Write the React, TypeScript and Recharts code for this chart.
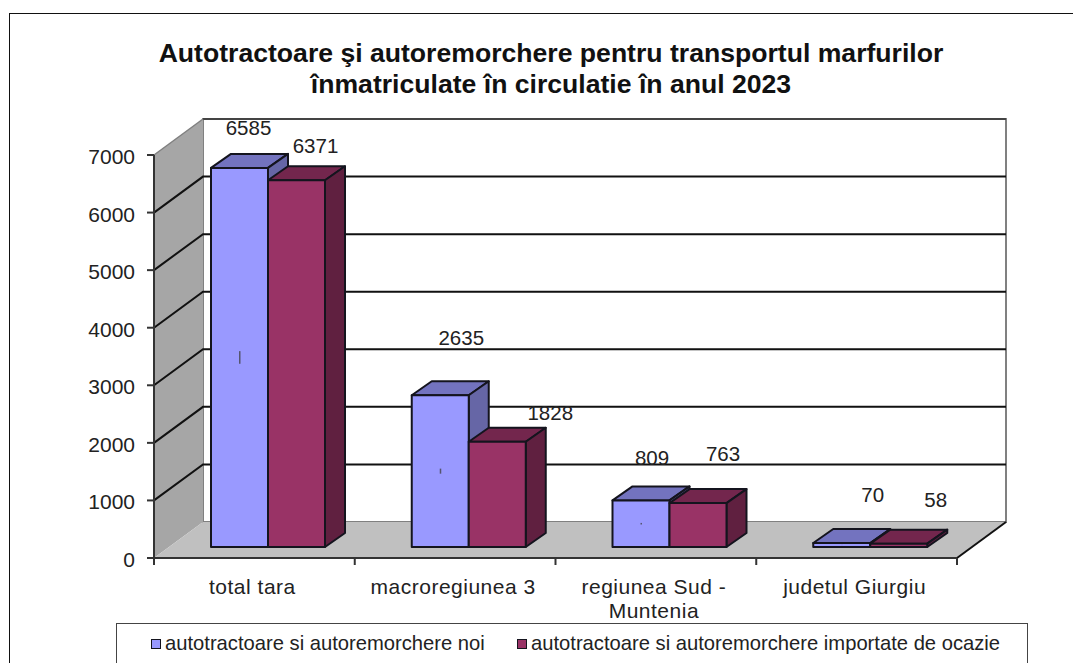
import { BarChart, Bar, XAxis, YAxis, CartesianGrid, ReferenceArea, LabelList, Text } from 'recharts';

const CATEGORIES = ['total tara', 'macroregiunea 3', 'regiunea Sud - Muntenia', 'judetul Giurgiu'];
const NOI = [6585, 2635, 809, 70];
const OCAZIE = [6371, 1828, 763, 58];
const Y_TICKS = [0, 1000, 2000, 3000, 4000, 5000, 6000, 7000];
const SERIES_NOI = 'autotractoare si autoremorchere noi';
const SERIES_OCAZIE = 'autotractoare si autoremorchere importate de ocazie';
const TITLE = ['Autotractoare şi autoremorchere pentru transportul marfurilor', 'înmatriculate în circulatie în anul 2023'];

const data = CATEGORIES.map((name, i) => ({ name, noi: NOI[i], ocazie: OCAZIE[i] }));

// label positions in the original are hand placed, so nudge them per bar
const NUDGE_NOI = [[23, -49], [35, -67], [25, -52], [45, -57]];
const NUDGE_OCAZIE = [[33, -44], [67, -38], [39, -58], [51, -53]];

const FONT = '"Liberation Sans", Arial, sans-serif';
const TEXT = '#222';
const WALL_DX = 49;
const WALL_DY = 36;
const BAR_DX = 14;
const BAR_DY = 11;
const DEPTH_DX = 20;
const DEPTH_DY = 14;
const BAND = 200.75;

function Prism({ x, y, width, height, front, top, side, mark }: any) {
  const l = x + BAR_DX;
  const r = l + width;
  const t = y - BAR_DY;
  const b = t + height;
  const mh = height / 30;
  return (
    <g stroke="#14141e" strokeWidth={2} strokeLinejoin="round">
      <polygon points={`${l},${t} ${l + DEPTH_DX},${t - DEPTH_DY} ${r + DEPTH_DX},${t - DEPTH_DY} ${r},${t}`} fill={top} />
      <polygon points={`${r},${t} ${r + DEPTH_DX},${t - DEPTH_DY} ${r + DEPTH_DX},${b - DEPTH_DY} ${r},${b}`} fill={side} />
      <rect x={l} y={t} width={width} height={height} fill={front} />
      {mark && <rect x={l + width / 2 - 0.5} y={t + height / 2 - mh / 2} width={1.5} height={mh} fill="#55556e" stroke="none" />}
    </g>
  );
}

function Walls({ x, y, width, height }: any) {
  const b = y + height;
  return (
    <g>
      <polygon points={`${x + WALL_DX},${y - WALL_DY} ${x + width + WALL_DX},${y - WALL_DY} ${x + width + WALL_DX},${b - WALL_DY} ${x + WALL_DX},${b - WALL_DY}`} fill="#fff" stroke="#808080" strokeWidth={2} />
      <line x1={x + WALL_DX} y1={y - WALL_DY} x2={x + width + WALL_DX} y2={y - WALL_DY} stroke="#444" strokeWidth={2} />
      <polygon points={`${x},${y} ${x + WALL_DX},${y - WALL_DY} ${x + WALL_DX},${b - WALL_DY} ${x},${b}`} fill="#a6a6a6" />
      <polygon points={`${x},${b} ${x + WALL_DX},${b - WALL_DY} ${x + width + WALL_DX},${b - WALL_DY} ${x + width},${b}`} fill="#c0c0c0" />
      <line x1={x + width} y1={b} x2={x + width + WALL_DX} y2={b - WALL_DY} stroke="#111" strokeWidth={2} />
      <line x1={x} y1={y} x2={x + WALL_DX} y2={y - WALL_DY} stroke="#808080" strokeWidth={1.5} />
    </g>
  );
}

function GridLine({ x1, x2, y1, index }: any) {
  if (y1 < 156 || y1 > 557) return <g key={index} />;
  return (
    <polyline
      key={index}
      points={`${x1},${y1} ${x1 + WALL_DX},${y1 - WALL_DY} ${x2 + WALL_DX},${y1 - WALL_DY}`}
      fill="none"
      stroke="#111"
      strokeWidth={2}
    />
  );
}

function CategoryTick({ x, y, payload, index }: any) {
  return (
    <g>
      <line x1={x - BAND / 2} y1={y - 8} x2={x - BAND / 2} y2={y - 1} stroke="#333" strokeWidth={2} />
      {index === CATEGORIES.length - 1 && <line x1={x + BAND / 2} y1={y - 8} x2={x + BAND / 2} y2={y - 1} stroke="#333" strokeWidth={2} />}
      <Text
        x={x - 2}
        y={y + 13}
        width={175}
        textAnchor="middle"
        verticalAnchor="start"
        lineHeight={24}
        style={{ fontFamily: FONT, fontSize: 21, letterSpacing: 0.5 }}
        fill={TEXT}
      >
        {payload.value}
      </Text>
    </g>
  );
}

function barLabel(nudge: number[][]) {
  return ({ x, y, width, value, index }: any) => (
    <text x={x + width / 2 + nudge[index][0]} y={y + nudge[index][1]} textAnchor="middle" dominantBaseline="middle" fontFamily={FONT} fontSize={20.5} fill={TEXT}>
      {value}
    </text>
  );
}

function LegendBox() {
  const swatch = (fill: string) => (
    <span style={{ display: 'inline-block', width: 8, height: 8, background: fill, border: '1.5px solid #14141e', marginRight: 4, verticalAlign: 1 }} />
  );
  return (
    <div style={{ position: 'absolute', left: 116, top: 623, width: 910, height: 60, border: '1.5px solid #444', fontFamily: FONT, fontSize: 20.2, color: TEXT, whiteSpace: 'nowrap' }}>
      <span style={{ position: 'absolute', left: 34, top: 8 }}>{swatch('#9999ff')}{SERIES_NOI}</span>
      <span style={{ position: 'absolute', left: 400, top: 8 }}>{swatch('#993366')}{SERIES_OCAZIE}</span>
    </div>
  );
}

export default function App() {
  return (
    <div style={{ position: 'absolute', left: 0, top: 0, width: 1073, height: 663, overflow: 'hidden', background: '#fff' }}>
      <div style={{ position: 'absolute', left: 8.5, top: 12.5, width: 1100, height: 700, border: '1.5px solid #111' }} />
      <div style={{ position: 'absolute', left: 0, top: 38, width: 1102, textAlign: 'center', fontFamily: FONT, fontWeight: 700, fontSize: 26.6, lineHeight: '31px', color: '#111', whiteSpace: 'nowrap' }}>
        {TITLE.map((t) => <div key={t}>{t}</div>)}
      </div>
      <BarChart
        width={1073}
        height={663}
        data={data}
        barGap={0}
        barCategoryGap={43}
        margin={{ top: 155, right: 116, bottom: 60, left: 94 }}
        style={{ position: 'absolute', left: 0, top: 0 }}
      >
        <ReferenceArea y1={0} y2={7000} shape={Walls} ifOverflow="visible" zIndex={-200} />
        <CartesianGrid vertical={false} horizontal={GridLine as any} />
        <XAxis dataKey="name" interval={0} height={45} tickLine={false} axisLine={{ stroke: '#333', strokeWidth: 2 }} tick={CategoryTick} />
        <YAxis
          width={60}
          domain={[0, 7000]}
          ticks={Y_TICKS}
          tickSize={7}
          tickMargin={12}
          interval={0}
          axisLine={{ stroke: '#333', strokeWidth: 2 }}
          tickLine={{ stroke: '#333', strokeWidth: 2 }}
          tick={{ fontFamily: FONT, fontSize: 21, fill: TEXT, dy: 1.5 }}
        />
        <Bar dataKey="noi" name={SERIES_NOI} isAnimationActive={false} shape={(p: any) => <Prism {...p} front="#9999ff" top="#7373bf" side="#6666a6" mark />}>
          <LabelList dataKey="noi" content={barLabel(NUDGE_NOI)} />
        </Bar>
        <Bar dataKey="ocazie" name={SERIES_OCAZIE} isAnimationActive={false} shape={(p: any) => <Prism {...p} front="#993366" top="#73264d" side="#602040" />}>
          <LabelList dataKey="ocazie" content={barLabel(NUDGE_OCAZIE)} />
        </Bar>
      </BarChart>
      <LegendBox />
    </div>
  );
}
